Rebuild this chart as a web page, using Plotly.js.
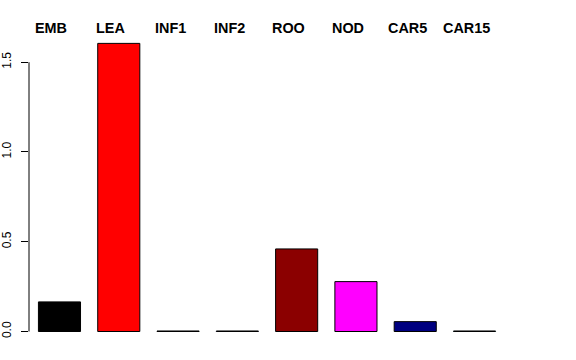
<!DOCTYPE html>
<html><head><meta charset="utf-8">
<script src="https://cdn.plot.ly/plotly-3.0.1.min.js"></script>
<style>body{margin:0;background:#fff}#c{width:576px;height:360px}</style>
</head><body><div id="c"></div>
<script>
const categories = ["EMB","LEA","INF1","INF2","ROO","NOD","CAR5","CAR15"];
const values = [0.165, 1.605, 0.003, 0.003, 0.46, 0.278, 0.055, 0.003];
const colors = ["#000000","#FF0000","#00CD00","#0000FF","#8B0000","#FF00FF","#000080","#00FFFF"];
const yTicks = [0, 0.5, 1.0, 1.5];
const yTickText = ["0.0","0.5","1.0","1.5"];

const trace = {
  type: "bar",
  x: categories.map((c,i)=>i),
  y: values,
  width: 0.71,
  marker: {color: colors, line: {color: "#000000", width: 1}},
  hoverinfo: "none"
};
const annotations = categories.map((c,i)=>({
  x: i, y: 1.0, xref: "x", yref: "paper", text: "<b>"+c+"</b>",
  showarrow: false, font: {family: "Liberation Sans, Arial, sans-serif", size: 14.4, color: "#000"},
  xanchor: "center", yanchor: "bottom", xshift: -8, yshift: -7
}));
const layout = {
  width: 576, height: 360,
  margin: {l: 29, r: 71, t: 31, b: 17},
  paper_bgcolor: "#fff", plot_bgcolor: "#fff",
  showlegend: false,
  xaxis: {range: [-0.514, 7.514], showgrid: false, zeroline: false, showline: false, showticklabels: false, ticks: ""},
  yaxis: {range: [-0.064, 1.674], showgrid: false, zeroline: false, showline: false,
    tickvals: yTicks, ticktext: yTickText, ticks: "outside", ticklen: 7, tickcolor: "#000", tickwidth: 1,
    ticklabelstandoff: 5,
    tickangle: -90, tickfont: {family: "Liberation Sans, Arial, sans-serif", size: 12, color: "#000"}},
  shapes: [{type: "line", xref: "paper", yref: "y", x0: 0, x1: 0, y0: yTicks[0], y1: yTicks[yTicks.length-1],
    line: {color: "#000", width: 1}}],
  annotations: annotations
};
Plotly.newPlot("c", [trace], layout, {staticPlot: true});
</script></body></html>
